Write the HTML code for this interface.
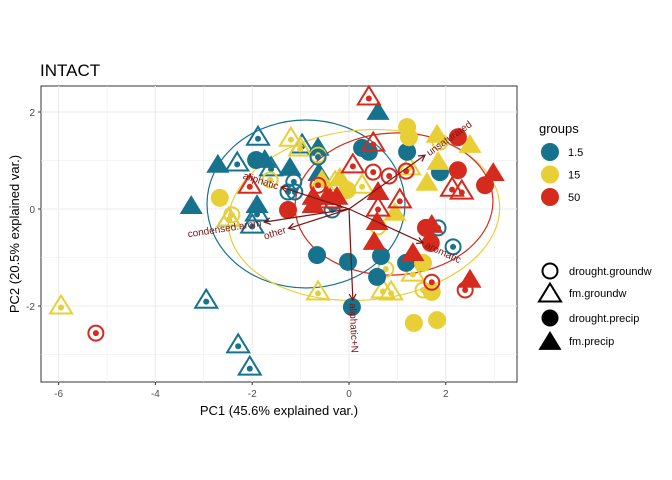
<!DOCTYPE html>
<html><head><meta charset="utf-8"><style>
body{margin:0;background:#fff}
svg{font-family:"Liberation Sans",sans-serif;display:block}
</style></head><body>
<svg id="c" width="672" height="480"></svg>
<script>
const colors={"1.5":"#17728E","15":"#E8CF36","50":"#D52B1E"};
const groupNames=["1.5","15","50"];
const shapeNames=["drought.groundw","fm.groundw","drought.precip","fm.precip"];
const s_b_ft_x=[-3.26,-2.71,-0.64,-0.62,0.6,-1.9,-1.74,-1.22];
const s_b_ft_y=[0.06,0.91,1.26,0.74,2.0,0.08,1.01,0.85];
const s_b_ot_x=[-2.95,-2.29,-2.05,-1.88,-2.31,-1.61,-0.97,-1.9,-2.0,-2.48];
const s_b_ot_y=[-1.88,-2.8,-3.26,1.48,0.95,0.85,1.32,-0.08,-0.33,-0.19];
const s_b_fc_x=[-1.92,0.27,0.41,1.2,1.88,-0.66,-0.02,0.66,1.18,0.58,0.06];
const s_b_fc_y=[1.01,1.26,1.18,1.18,0.76,-0.95,-1.09,-0.97,-1.11,-1.4,-2.02];
const s_b_oc_x=[-1.26,-1.12,-1.14,-0.33,-0.35,2.15,1.84,-0.64];
const s_b_oc_y=[0.35,0.35,0.56,0.14,-0.02,-0.78,-0.39,1.07];
const s_y_fc_x=[-2.67,1.2,1.24,1.34,1.82,1.53,1.71,-0.04];
const s_y_fc_y=[0.23,1.69,1.48,-2.35,-2.29,-1.11,-1.71,0.39];
const s_y_ft_x=[1.82,2.5,1.84,1.61,-0.19,0.95,-0.56];
const s_y_ft_y=[1.53,1.32,0.97,0.54,0.64,-0.08,0.6];
const s_y_ot_x=[-5.95,-1.2,1.24,0.27,-0.29,-0.64,0.7,0.87,1.32,-2.48,-1.01];
const s_y_ot_y=[-2.0,1.46,0.87,0.49,0.56,-1.71,-1.67,-1.71,-1.32,-0.19,1.26];
const s_y_oc_x=[-0.64,1.88,0.6,0.76,1.53,-1.63,-2.42];
const s_y_oc_y=[1.11,1.38,-0.37,-1.24,-1.67,0.6,-0.12];
const s_r_fc_x=[2.25,2.25,2.81,1.59,1.69,-1.26];
const s_r_fc_y=[1.48,0.8,0.49,-0.39,-0.7,-0.02];
const s_r_ft_x=[2.98,0.6,0.58,0.52,1.32,2.5,-0.74,-0.45,-0.25,1.71,-0.74];
const s_r_ft_y=[0.74,0.35,-0.27,-0.68,-0.91,-1.46,0.25,0.25,0.25,-0.33,0.08];
const s_r_ot_x=[0.41,0.5,2.13,2.33,0.08,1.05,0.6,-2.05,-0.39];
const s_r_ot_y=[2.31,1.36,0.43,0.37,0.91,0.19,0.02,0.49,0.19];
const s_r_oc_x=[-5.23,0.5,0.83,1.18,1.71,2.4,-0.64];
const s_r_oc_y=[-2.56,0.76,0.68,0.78,-1.51,-1.67,0.49];
const xTicks=[-6,-4,-2,0,2];
const yTicks=[2,0,-2];
const arrowNames=["unsaturated","aromatic","aliphatic+N","other","condensed.arom","aliphatic"];
const arrowX=[1.57,1.53,0.08,-1.25,-1.75,-1.4];
const arrowY=[1.11,-0.7,-1.88,-0.4,-0.27,0.45];

const NS="http://www.w3.org/2000/svg",svg=document.getElementById('c');
const L=41,R=517,T=86,B=382;
const X=v=>349+v*48.4, Y=v=>209-v*48.5;
function el(t,a,p){const e=document.createElementNS(NS,t);for(const k in a)e.setAttribute(k,a[k]);(p||svg).appendChild(e);return e;}
const panel=el('rect',{x:L,y:T,width:R-L,height:B-T,fill:'#fff',stroke:'#333','stroke-width':1});


for(let v=-7;v<=3;v++){const x=X(v);if(x>L&&x<R)el('line',{x1:x,x2:x,y1:T,y2:B,stroke:'#ebebeb','stroke-width':v%2===0?1.1:0.5});}
for(let v=-4;v<=3;v++){const y=Y(v);if(y>T&&y<B)el('line',{x1:L,x2:R,y1:y,y2:y,stroke:'#ebebeb','stroke-width':v%2===0?1.1:0.5});}
xTicks.forEach(v=>{el('line',{x1:X(v),x2:X(v),y1:B,y2:B+3,stroke:'#333'});
 const t=el('text',{x:X(v),y:B+15,'font-size':10,fill:'#4d4d4d','text-anchor':'middle'});t.textContent=v;
 
 });
yTicks.forEach(v=>{el('line',{x1:L-3,x2:L,y1:Y(v),y2:Y(v),stroke:'#333'});
 const t=el('text',{x:L-6,y:Y(v)+4,'font-size':10,fill:'#4d4d4d','text-anchor':'end'});t.textContent=v;
 
 });
[["1.5",306,204,99,84,0],["15",364,215,136,85,-5],["50",394,204,99,71,-3]].forEach(e=>{
 const q=el('ellipse',{cx:e[1],cy:e[2],rx:e[3],ry:e[4],fill:'none',stroke:colors[e[0]],'stroke-width':1.2,transform:`rotate(${e[5]} ${e[1]} ${e[2]})`});
 
 });
function tri(x,y,s){return `${x},${y-s} ${x-s*1.05},${y+s*0.72} ${x+s*1.05},${y+s*0.72}`;}
function draw(xs,ys,g,sh){const c=colors[g];xs.forEach((xv,i)=>{const x=X(xv),y=Y(ys[i]);let m;
 if(sh==='fc')m=el('circle',{cx:x,cy:y,r:9,fill:c});
 else if(sh==='ft')m=el('polygon',{points:tri(x,y,11),fill:c});
 else if(sh==='oc'){m=el('circle',{cx:x,cy:y,r:7.5,fill:'none',stroke:c,'stroke-width':2});el('circle',{cx:x,cy:y,r:3,fill:c});}
 else {m=el('polygon',{points:tri(x,y,10.5),fill:'none',stroke:c,'stroke-width':2});el('circle',{cx:x,cy:y+1.5,r:3,fill:c});}
 
 });}
draw(s_b_ft_x,s_b_ft_y,"1.5","ft");draw(s_b_ot_x,s_b_ot_y,"1.5","ot");
draw(s_y_ot_x,s_y_ot_y,"15","ot");draw(s_y_oc_x,s_y_oc_y,"15","oc");
draw(s_b_fc_x,s_b_fc_y,"1.5","fc");draw(s_b_oc_x,s_b_oc_y,"1.5","oc");
draw(s_y_fc_x,s_y_fc_y,"15","fc");draw(s_y_ft_x,s_y_ft_y,"15","ft");
draw(s_r_fc_x,s_r_fc_y,"50","fc");draw(s_r_ft_x,s_r_ft_y,"50","ft");
draw(s_r_ot_x,s_r_ot_y,"50","ot");draw(s_r_oc_x,s_r_oc_y,"50","oc");
const ac="#7a1515";
arrowNames.forEach((n,i)=>{const x1=X(0),y1=Y(0),x2=X(arrowX[i]),y2=Y(arrowY[i]);
 const a=el('line',{x1,y1,x2,y2,stroke:ac,'stroke-width':1.2});
 
 
 const ang=Math.atan2(y2-y1,x2-x1),h=7;
 el('path',{d:`M${x2-h*Math.cos(ang-0.5)},${y2-h*Math.sin(ang-0.5)} L${x2},${y2} L${x2-h*Math.cos(ang+0.5)},${y2-h*Math.sin(ang+0.5)}`,fill:'none',stroke:ac,'stroke-width':1.2});
 let deg=ang*180/Math.PI;let anchor='start';
 if(deg>90){deg-=180;anchor='end';}else if(deg<-90){deg+=180;anchor='end';}
 const lx=x2+3*Math.cos(ang),ly=y2+3*Math.sin(ang);
 const t=el('text',{x:lx,y:ly+3.5,'font-size':10,fill:ac,'text-anchor':anchor,transform:`rotate(${deg} ${lx} ${ly})`});t.textContent=n;
 
 });
let t=el('text',{x:40,y:76,'font-size':17,fill:'#000'});t.textContent='INTACT';


t=el('text',{x:279,y:415,'font-size':13,fill:'#000','text-anchor':'middle'});t.textContent='PC1 (45.6% explained var.)';


t=el('text',{x:19,y:234,'font-size':13,fill:'#000','text-anchor':'middle',transform:'rotate(-90 19 234)'});t.textContent='PC2 (20.5% explained var.)';


t=el('text',{x:539,y:133,'font-size':13,fill:'#000'});t.textContent='groups';


groupNames.forEach((g,i)=>{const y=152+i*22.5;const c=el('circle',{cx:550,cy:y,r:9,fill:colors[g]});
 
 
 const tt=el('text',{x:568,y:y+4,'font-size':11,fill:'#000'});tt.textContent=g;
 
 });
const sy=[271,293,318,341];
shapeNames.forEach((n,i)=>{const y=sy[i];let m;
 if(i===0)m=el('circle',{cx:550,cy:y,r:7.5,fill:'none',stroke:'#000','stroke-width':2});
 else if(i===1)m=el('polygon',{points:tri(550,y+1,10.5),fill:'none',stroke:'#000','stroke-width':2});
 else if(i===2)m=el('circle',{cx:550,cy:y,r:8.5,fill:'#000'});
 else m=el('polygon',{points:tri(550,y+1,11),fill:'#000'});
 
 
 const tt=el('text',{x:569,y:y+4,'font-size':11,fill:'#000'});tt.textContent=n;
 
 });
</script>
</body></html>
